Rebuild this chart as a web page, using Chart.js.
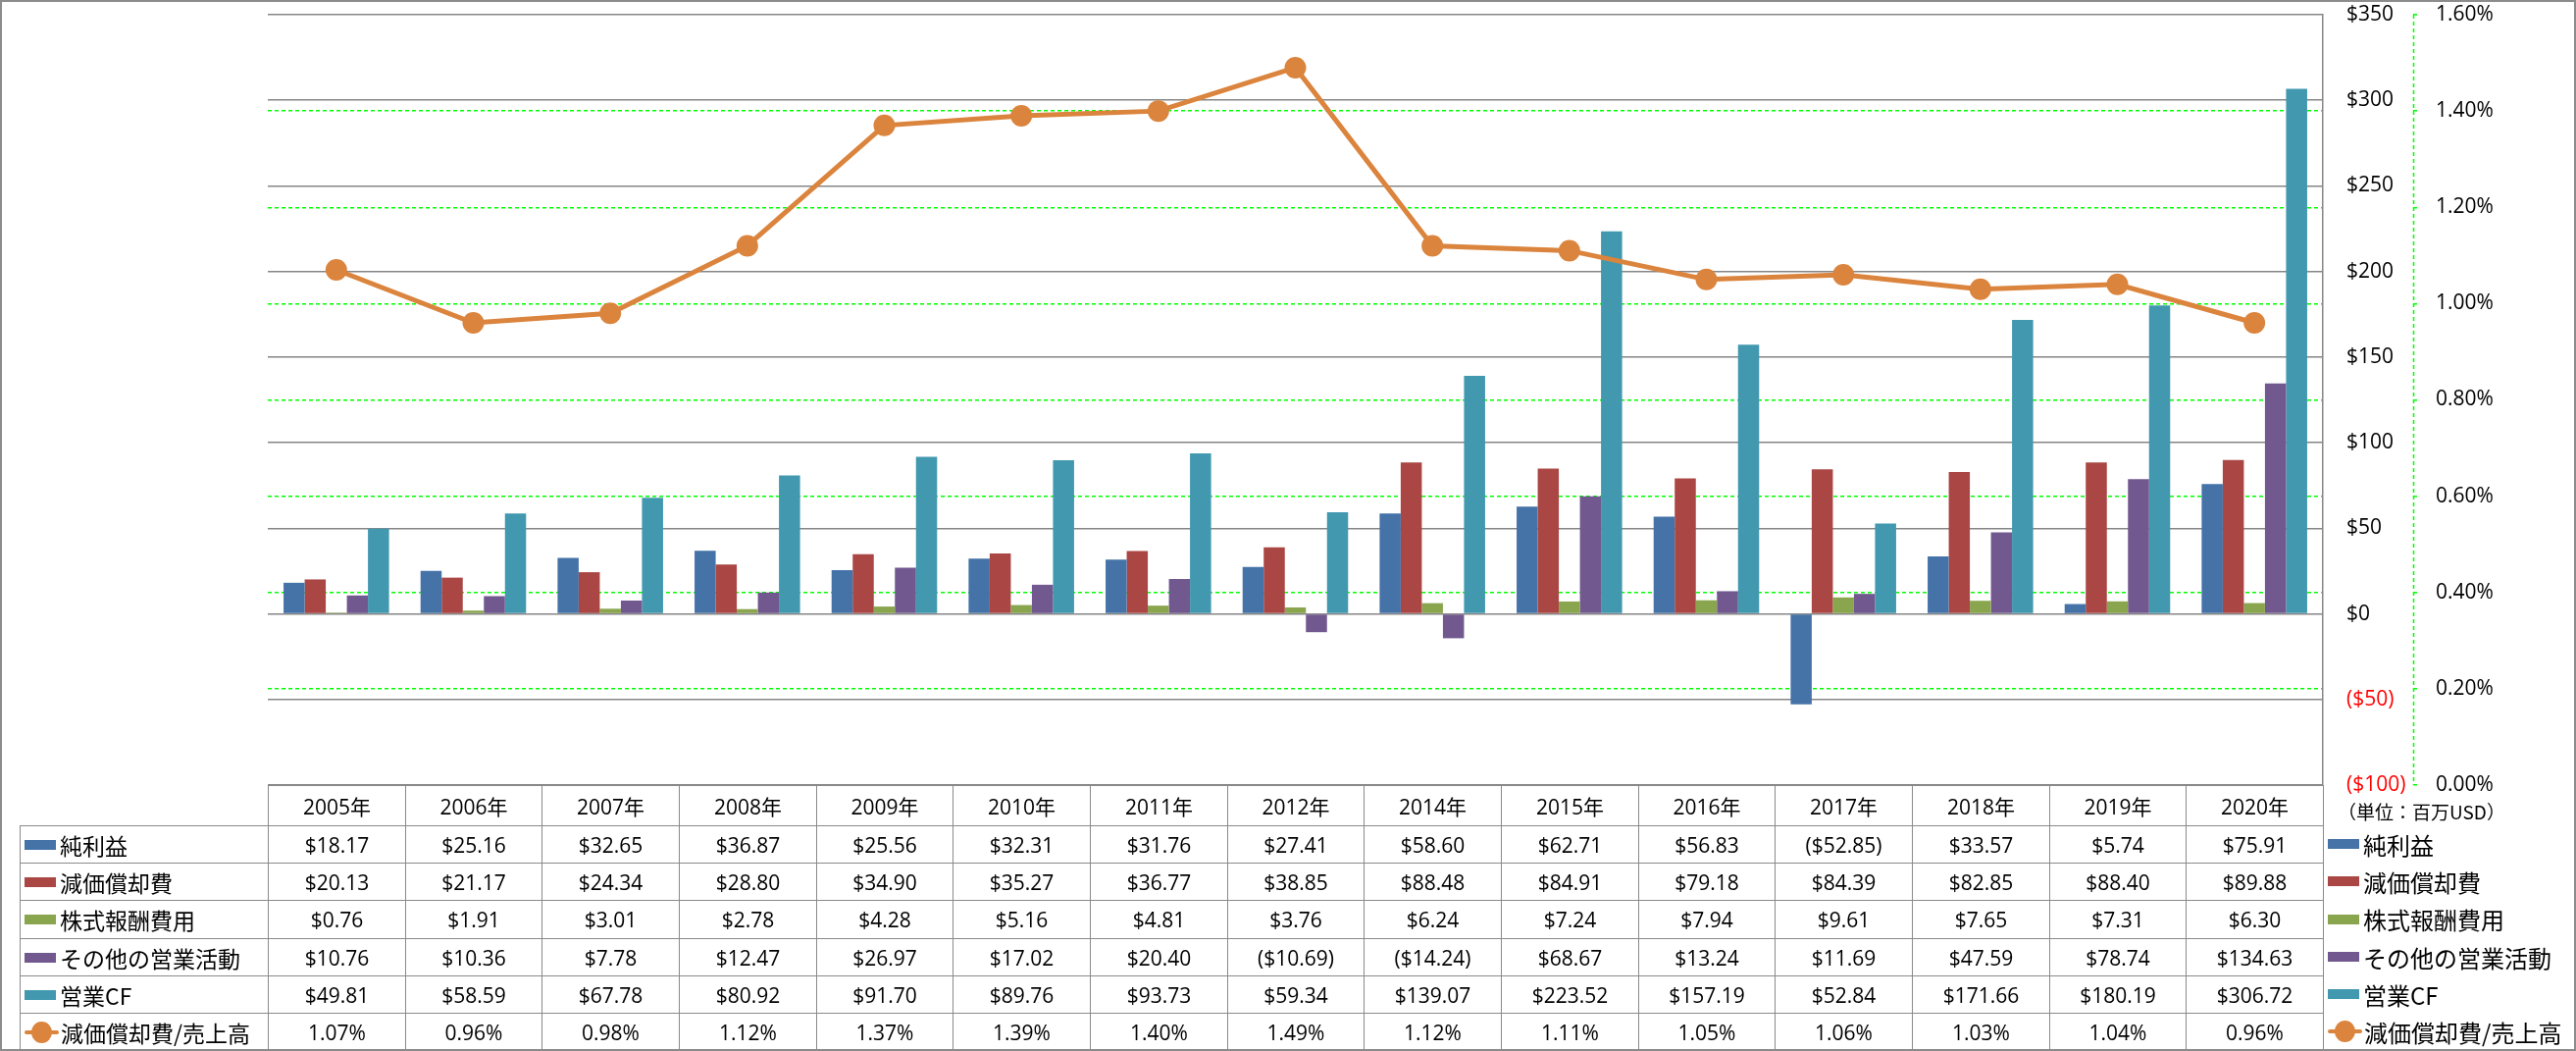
<!DOCTYPE html>
<html><head><meta charset="utf-8">
<script src="https://cdn.jsdelivr.net/npm/chart.js@4.4.0/dist/chart.umd.min.js"></script>
<style>
html,body{margin:0;padding:0;background:#fff;}
#wrap{position:relative;width:2626px;height:1071px;overflow:hidden;font-family:'Open Sans','Noto Sans CJK JP',sans-serif;background:#fff;}
#c{position:absolute;left:0;top:0;}
.cell{position:absolute;box-sizing:border-box;border:1px solid #8a8a8a;display:flex;align-items:center;justify-content:center;font-size:21px;color:#000;white-space:nowrap;}
.lcell{justify-content:flex-start;padding-left:4px;font-family:'Noto Sans CJK JP',sans-serif;font-size:23px;}
.sw{display:inline-block;width:32px;height:10px;margin-right:4px;flex:none;}
.lsw{position:relative;display:inline-block;width:35px;height:22px;margin-right:2px;flex:none;}
.lsw .ln{position:absolute;left:0;right:0;top:9px;height:4px;border-radius:2px;}
.lsw .dot{position:absolute;left:7px;top:0;width:21px;height:22px;border-radius:50%;}
.rl{position:absolute;display:flex;align-items:center;font-family:'Noto Sans CJK JP',sans-serif;font-size:24px;white-space:nowrap;color:#000;}
#unit{position:absolute;font-family:'Noto Sans CJK JP',sans-serif;font-size:19px;color:#000;white-space:nowrap;}
#frame{position:absolute;left:0;top:0;width:2626px;height:1071px;box-sizing:border-box;border:2px solid #8c8c8c;pointer-events:none;}
</style></head>
<body><div id="wrap"><canvas id="c" width="2626" height="1071"></canvas><div id="frame"></div></div>
<script>
// ---- data ----
const years = ['2005年','2006年','2007年','2008年','2009年','2010年','2011年','2012年','2014年','2015年','2016年','2017年','2018年','2019年','2020年'];
const seriesNames = ['純利益','減価償却費','株式報酬費用','その他の営業活動','営業CF','減価償却費/売上高'];
const netIncome    = [18.17, 25.16, 32.65, 36.87, 25.56, 32.31, 31.76, 27.41, 58.60, 62.71, 56.83, -52.85, 33.57, 5.74, 75.91];
const depreciation = [20.13, 21.17, 24.34, 28.80, 34.90, 35.27, 36.77, 38.85, 88.48, 84.91, 79.18, 84.39, 82.85, 88.40, 89.88];
const stockComp    = [0.76, 1.91, 3.01, 2.78, 4.28, 5.16, 4.81, 3.76, 6.24, 7.24, 7.94, 9.61, 7.65, 7.31, 6.30];
const otherOps     = [10.76, 10.36, 7.78, 12.47, 26.97, 17.02, 20.40, -10.69, -14.24, 68.67, 13.24, 11.69, 47.59, 78.74, 134.63];
const operatingCF  = [49.81, 58.59, 67.78, 80.92, 91.70, 89.76, 93.73, 59.34, 139.07, 223.52, 157.19, 52.84, 171.66, 180.19, 306.72];
const deprRatio    = [1.07, 0.96, 0.98, 1.12, 1.37, 1.39, 1.40, 1.49, 1.12, 1.11, 1.05, 1.06, 1.03, 1.04, 0.96];
const usdTicks = {min:-100, max:350, step:50};
const pctTicks = {min:0, max:1.6, step:0.2};
const unitLabel = '（単位：百万USD）';

// ---- styles ----
const COLORS = ['#4572A7','#AA4643','#89A54E','#71588F','#4198AF','#DB843D'];
const GRAY = '#868686', GREEN = '#00ff00';
Chart.defaults.font.family = "'Open Sans','Noto Sans CJK JP',sans-serif";
Chart.defaults.color = '#000';

const barSeries = [netIncome, depreciation, stockComp, otherOps, operatingCF];
const datasets = [{
  type:'line', label:seriesNames[5], data:deprRatio, yAxisID:'y1',
  borderColor:COLORS[5], backgroundColor:COLORS[5], borderWidth:5,
  pointRadius:11, pointHoverRadius:11, pointBackgroundColor:COLORS[5], pointBorderWidth:0,
  tension:0, order:0
}];
barSeries.forEach((d,i)=>datasets.push({type:'bar', label:seriesNames[i], data:d, yAxisID:'y', backgroundColor:COLORS[i], borderWidth:0, order:1}));

const y1AxisLine = {id:'y1AxisLine', afterDraw(chart){
  const s = chart.scales.y1, ctx = chart.ctx;
  ctx.save(); ctx.strokeStyle = GREEN; ctx.lineWidth = 1.5; ctx.setLineDash([4,3]);
  ctx.beginPath(); ctx.moveTo(s.left+0.5, s.top); ctx.lineTo(s.left+0.5, s.bottom); ctx.stroke(); ctx.restore();
}};

const isEdge = v => Math.abs(v - pctTicks.min) < 1e-9 || Math.abs(v - pctTicks.max) < 1e-9;
const fmtUsd = v => v < 0 ? `($${(-v).toFixed(2)})` : `$${v.toFixed(2)}`;
const fixScale = w => s => { s.width = w; s.paddingTop = 0; s.paddingBottom = 0; };

const chart = new Chart(document.getElementById('c'), {
  type:'bar',
  data:{labels:years, datasets},
  options:{
    responsive:false, animation:false, devicePixelRatio:1,
    layout:{padding:{left:273, top:15, bottom:271, right:0}},
    plugins:{legend:{display:false}, tooltip:{enabled:false}},
    datasets:{bar:{categoryPercentage:0.77, barPercentage:1}},
    scales:{
      x:{display:false, offset:true},
      y:{position:'right', min:usdTicks.min, max:usdTicks.max, weight:0,
         afterFit:fixScale(92),
         ticks:{stepSize:usdTicks.step, padding:24, font:{size:21},
                color:c=>c.tick && c.tick.value<0 ? '#ff0000' : '#000',
                callback:v=> v<0 ? `($${-v})` : `$${v}`},
         grid:{color:GRAY, lineWidth:1.5, drawTicks:false},
         border:{display:true, color:GRAY, width:1.5}},
      y1:{position:'right', min:pctTicks.min, max:pctTicks.max, weight:1,
         afterFit:fixScale(166),
         ticks:{stepSize:pctTicks.step, padding:16, font:{size:21}, callback:v=>v.toFixed(2)+'%'},
         grid:{color:c=> (c.tick && isEdge(c.tick.value)) ? 'rgba(0,0,0,0)' : GREEN,
               lineWidth:1.5, tickLength:7, tickColor:GREEN, tickBorderDash:[4,3]},
         border:{display:false, dash:[4,3]}}
    }
  },
  plugins:[y1AxisLine]
});

// ---- data table (built from the chart's own x scale) ----
const wrap = document.getElementById('wrap');
const ca = chart.chartArea, xs = chart.scales.x;
const colW = (ca.right - ca.left) / years.length;
const headTop = Math.round(ca.bottom), headH = 41, tableBottom = 1070;
const rowH = (tableBottom - headTop - headH) / 6;
function add(cls, l, t, w, h, html){
  const d = document.createElement('div'); d.className = cls;
  d.style.left = l+'px'; d.style.top = t+'px'; d.style.width = w+'px'; d.style.height = h+'px';
  d.innerHTML = html; wrap.appendChild(d); return d;
}
function swatch(i){
  if (i === 5) return `<span class="lsw"><span class="ln" style="background:${COLORS[5]}"></span><span class="dot" style="background:${COLORS[5]}"></span></span>`;
  return `<span class="sw" style="background:${COLORS[i]}"></span>`;
}
years.forEach((y,i)=>{
  const cx = xs.getPixelForValue(i);
  const l = Math.round(cx - colW/2), r = Math.round(cx + colW/2);
  add('cell', l, headTop, r-l+1, headH+1, y);
});
const rowsData = [...barSeries, deprRatio];
rowsData.forEach((arr, ri)=>{
  const t = Math.round(headTop + headH + ri*rowH), b = Math.round(headTop + headH + (ri+1)*rowH);
  add('cell lcell', 20, t, Math.round(ca.left) - 20 + 1, b-t+1, swatch(ri) + seriesNames[ri]);
  arr.forEach((v,i)=>{
    const cx = xs.getPixelForValue(i);
    const l = Math.round(cx - colW/2), r = Math.round(cx + colW/2);
    add('cell', l, t, r-l+1, b-t+1, ri===5 ? v.toFixed(2)+'%' : fmtUsd(v));
  });
  add('rl', Math.round(ca.right)+5, t, 250, b-t, swatch(ri) + seriesNames[ri]);
});
const u = document.createElement('div'); u.id='unit'; u.textContent = unitLabel;
u.style.left = '2383px'; u.style.top = (headTop+13)+'px'; wrap.appendChild(u);
</script>
</body></html>
